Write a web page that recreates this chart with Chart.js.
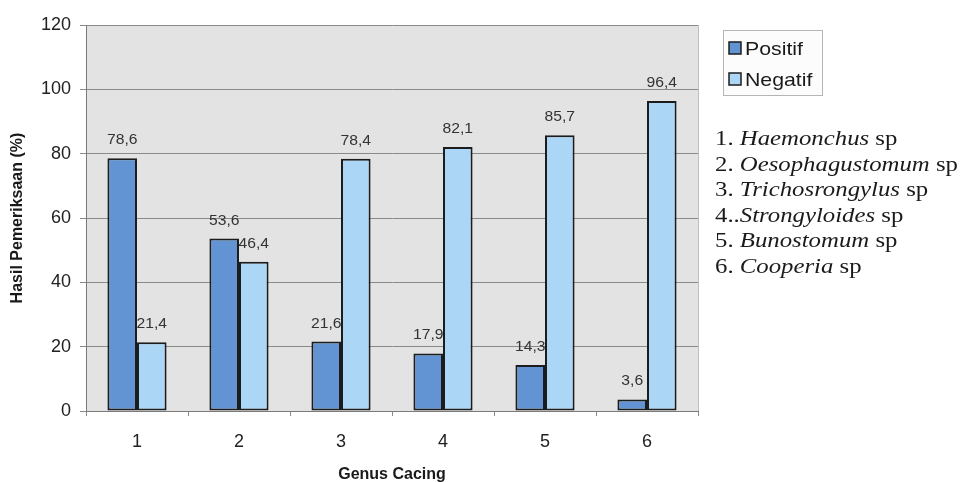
<!DOCTYPE html>
<html>
<head>
<meta charset="utf-8">
<script src="https://cdn.jsdelivr.net/npm/chart.js@4/dist/chart.umd.min.js"></script>
<style>
  html, body { margin: 0; padding: 0; background: #ffffff; }
  #wrap { width: 966px; height: 482px; position: relative; }
</style>
</head>
<body>
<div id="wrap"><canvas id="c" width="966" height="482"></canvas></div>
<script>
// Genus numbers on the x axis
const categories = ['1', '2', '3', '4', '5', '6'];
// Examination results (%)
const positif = [78.6, 53.6, 21.6, 17.9, 14.3, 3.6];
const negatif = [21.4, 46.4, 78.4, 82.1, 85.7, 96.4];
const seriesNames = ['Positif', 'Negatif'];
const yTicks = [0, 20, 40, 60, 80, 100, 120];
// Key for the genus numbers
const genusPrefix = ['1. ', '2. ', '3. ', '4..', '5. ', '6. '];
const genusNames = ['Haemonchus', 'Oesophagustomum', 'Trichosrongylus', 'Strongyloides', 'Bunostomum', 'Cooperia'];
const genusSuffix = ' sp';

const colPos = '#6294d3';
const colNeg = '#abd6f6';
const edge = '#1c1c1c';

const fmt = v => String(v).replace('.', ',');

// grey plot background
const plotBg = {
  id: 'plotBg',
  beforeDraw(chart) {
    const { ctx, chartArea: a } = chart;
    ctx.save();
    ctx.fillStyle = '#e3e3e3';
    ctx.fillRect(a.left, a.top, a.right - a.left, a.bottom - a.top);
    ctx.strokeStyle = '#bdbdbd';
    ctx.lineWidth = 1;
    ctx.beginPath();
    ctx.moveTo(a.right + 0.5, a.top);
    ctx.lineTo(a.right + 0.5, a.bottom);
    ctx.stroke();
    ctx.restore();
  }
};

// value labels above every bar
const valueLabels = {
  id: 'valueLabels',
  afterDatasetsDraw(chart) {
    const { ctx } = chart;
    ctx.save();
    ctx.font = '14px "Liberation Sans", Arial, sans-serif';
    ctx.fillStyle = '#333333';
    ctx.textAlign = 'center';
    ctx.textBaseline = 'alphabetic';
    chart.data.datasets.forEach((ds, i) => {
      const meta = chart.getDatasetMeta(i);
      meta.data.forEach((bar, j) => {
        ctx.save();
        ctx.translate(bar.x, bar.y - 14);
        ctx.scale(1.12, 1);
        ctx.fillText(fmt(ds.data[j]), 0, 0);
        ctx.restore();
      });
    });
    ctx.restore();
  }
};

// series key box and genus key on the right
const sideKey = {
  id: 'sideKey',
  afterDraw(chart) {
    const { ctx } = chart;
    ctx.save();
    // legend box
    ctx.fillStyle = '#fcfcfc';
    ctx.fillRect(723, 30, 99, 65);
    ctx.strokeStyle = '#b5b5b5';
    ctx.lineWidth = 1;
    ctx.strokeRect(723.5, 30.5, 99, 65);
    const cols = [colPos, colNeg];
    const baseY = [55, 86];
    seriesNames.forEach((name, i) => {
      ctx.fillStyle = cols[i];
      ctx.fillRect(729, baseY[i] - 13, 12, 12);
      ctx.strokeStyle = edge;
      ctx.lineWidth = 1.5;
      ctx.strokeRect(729, baseY[i] - 13, 12, 12);
      ctx.save();
      ctx.translate(745, baseY[i]);
      ctx.scale(1.15, 1);
      ctx.fillStyle = '#1a1a1a';
      ctx.font = '18.5px "Liberation Sans", Arial, sans-serif';
      ctx.textBaseline = 'alphabetic';
      ctx.fillText(name, 0, 0);
      ctx.restore();
    });
    // genus key
    const upright = '21px "Liberation Serif", "Times New Roman", serif';
    const italic = 'italic 21px "Liberation Serif", "Times New Roman", serif';
    genusNames.forEach((g, i) => {
      ctx.save();
      ctx.translate(715, 145 + i * 25.6);
      ctx.scale(1.18, 1);
      ctx.fillStyle = '#1a1a1a';
      ctx.textBaseline = 'alphabetic';
      let x = 0;
      ctx.font = upright;
      ctx.fillText(genusPrefix[i], x, 0);
      x += ctx.measureText(genusPrefix[i]).width;
      ctx.font = italic;
      ctx.fillText(g, x, 0);
      x += ctx.measureText(g).width;
      ctx.font = upright;
      ctx.fillText(genusSuffix, x, 0);
      ctx.restore();
    });
    ctx.restore();
  }
};

new Chart(document.getElementById('c'), {
  type: 'bar',
  data: {
    labels: categories,
    datasets: [
      { label: seriesNames[0], data: positif, backgroundColor: colPos, borderColor: edge, borderWidth: 2, borderSkipped: false },
      { label: seriesNames[1], data: negatif, backgroundColor: colNeg, borderColor: edge, borderWidth: 2, borderSkipped: false }
    ]
  },
  options: {
    responsive: false,
    animation: false,
    events: [],
    categoryPercentage: 0.58,
    barPercentage: 1.0,
    layout: { padding: { top: 25, right: 268, left: 0, bottom: -2 } },
    plugins: { legend: { display: false }, tooltip: { enabled: false } },
    scales: {
      y: {
        min: 0, max: 120,
        afterFit(s) { s.width = 86; },
        afterBuildTicks(s) { s.ticks = yTicks.map(v => ({ value: v })); },
        ticks: { color: '#222222', padding: 9, font: { family: '"Liberation Sans", Arial, sans-serif', size: 18 } },
        grid: { color: '#8a8a8a', lineWidth: 1, tickLength: 6 },
        border: { color: '#7a7a7a', width: 1 },
        title: {
          display: true, text: 'Hasil Pemeriksaan (%)', color: '#1a1a1a',
          padding: { top: 8, bottom: 0 },
          font: { family: '"Liberation Sans", Arial, sans-serif', size: 16, weight: 'bold' }
        }
      },
      x: {
        offset: true,
        afterFit(s) { s.height = 73; },
        ticks: { color: '#222222', padding: 15, font: { family: '"Liberation Sans", Arial, sans-serif', size: 18 } },
        grid: { drawOnChartArea: false, color: '#8a8a8a', tickLength: 5, offset: true },
        border: { color: '#7a7a7a', width: 1 },
        title: {
          display: true, text: 'Genus Cacing', color: '#1a1a1a',
          padding: { top: 0, bottom: 0 },
          font: { family: '"Liberation Sans", Arial, sans-serif', size: 16, weight: 'bold' }
        }
      }
    }
  },
  plugins: [plotBg, valueLabels, sideKey]
});
</script>
</body>
</html>
